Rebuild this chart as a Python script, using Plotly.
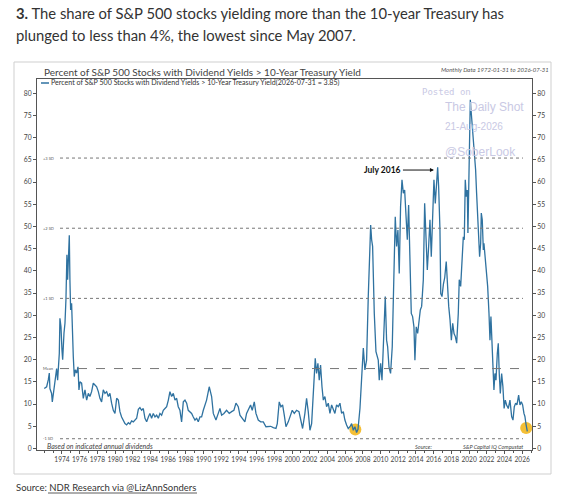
import plotly.graph_objects as go

# percent of S&P 500 stocks with dividend yield above the 10-year Treasury yield
years = [
    1972.0, 1972.27, 1972.46, 1972.57, 1972.64, 1972.83, 1972.91, 1973.02, 1973.21, 1973.32,
    1973.4, 1973.51, 1973.59, 1973.7, 1973.77, 1973.89, 1974.0, 1974.08, 1974.23, 1974.34,
    1974.45, 1974.56, 1974.64, 1974.72, 1974.83, 1974.9, 1974.98, 1975.09, 1975.17, 1975.28,
    1975.39, 1975.51, 1975.66, 1975.81, 1975.92, 1976.03, 1976.22, 1976.41, 1976.6, 1976.79,
    1976.98, 1977.16, 1977.35, 1977.54, 1977.73, 1977.92, 1978.11, 1978.29, 1978.48, 1978.67,
    1978.86, 1979.05, 1979.24, 1979.42, 1979.61, 1979.8, 1979.99, 1980.18, 1980.37, 1980.55,
    1980.74, 1980.93, 1981.12, 1981.31, 1981.5, 1981.68, 1981.87, 1982.06, 1982.25, 1982.44,
    1982.63, 1982.81, 1983.0, 1983.19, 1983.38, 1983.57, 1983.76, 1983.94, 1984.13, 1984.32,
    1984.51, 1984.7, 1984.89, 1985.07, 1985.26, 1985.45, 1985.64, 1985.83, 1986.02, 1986.2,
    1986.39, 1986.58, 1986.77, 1986.96, 1987.14, 1987.33, 1987.52, 1987.71, 1987.9, 1988.09,
    1988.27, 1988.46, 1988.65, 1988.84, 1989.03, 1989.22, 1989.4, 1989.59, 1989.78, 1989.97,
    1990.34, 1990.64, 1990.91, 1991.1, 1991.4, 1991.66, 1991.85, 1992.04, 1992.3, 1992.6,
    1992.9, 1993.17, 1993.43, 1993.66, 1993.92, 1994.11, 1994.37, 1994.67, 1994.86, 1995.16,
    1995.31, 1995.5, 1995.73, 1995.92, 1996.18, 1996.45, 1996.75, 1997.05, 1997.31, 1997.58,
    1997.88, 1998.18, 1998.33, 1998.55, 1998.74, 1998.93, 1999.12, 1999.31, 1999.57, 1999.76,
    2000.02, 2000.25, 2000.51, 2000.78, 2001.0, 2001.19, 2001.45, 2001.64, 2001.83, 2002.02,
    2002.21, 2002.4, 2002.51, 2002.62, 2002.77, 2002.92, 2003.07, 2003.22, 2003.38, 2003.53,
    2003.71, 2003.9, 2004.09, 2004.28, 2004.47, 2004.66, 2004.84, 2005.03, 2005.22, 2005.41,
    2005.6, 2005.79, 2005.97, 2006.16, 2006.35, 2006.54, 2006.73, 2006.92, 2007.1, 2007.29,
    2007.45, 2007.67, 2007.86, 2008.05, 2008.23, 2008.42, 2008.61, 2008.88, 2008.99, 2009.1,
    2009.29, 2009.48, 2009.74, 2009.85, 2010.01, 2010.16, 2010.31, 2010.42, 2010.53, 2010.68,
    2010.8, 2010.95, 2011.13, 2011.32, 2011.51, 2011.66, 2011.81, 2011.96, 2012.11, 2012.26,
    2012.42, 2012.57, 2012.72, 2012.87, 2013.02, 2013.17, 2013.32, 2013.47, 2013.62, 2013.77,
    2013.88, 2014.03, 2014.19, 2014.34, 2014.49, 2014.64, 2014.83, 2014.98, 2015.13, 2015.28,
    2015.43, 2015.58, 2015.73, 2015.88, 2016.03, 2016.18, 2016.33, 2016.45, 2016.56, 2016.71,
    2016.8, 2016.94, 2017.1, 2017.25, 2017.42, 2017.55, 2017.7, 2017.85, 2018.0, 2018.15,
    2018.3, 2018.45, 2018.6, 2018.78, 2018.89, 2019.05, 2019.2, 2019.35, 2019.46, 2019.57,
    2019.69, 2019.8, 2019.87, 2019.95, 2020.02, 2020.14, 2020.25, 2020.36, 2020.48, 2020.59,
    2020.74, 2020.85, 2020.97, 2021.08, 2021.19, 2021.31, 2021.38, 2021.49, 2021.61, 2021.68,
    2021.79, 2021.95, 2022.1, 2022.25, 2022.36, 2022.47, 2022.59, 2022.7, 2022.81, 2022.92,
    2023.04, 2023.19, 2023.3, 2023.41, 2023.53, 2023.68, 2023.82, 2023.96, 2024.09, 2024.24,
    2024.43, 2024.62, 2024.81, 2024.96, 2025.11, 2025.26, 2025.41, 2025.6, 2025.75, 2025.9,
    2026.05, 2026.2, 2026.31, 2026.43, 2026.58,
]
share = [
    13.5, 13.9, 15.5, 17.0, 13.5, 12.4, 10.5, 12.0, 15.0, 16.5,
    18.0, 15.4, 18.0, 21.4, 29.3, 27.4, 22.2, 20.0, 26.0, 28.2,
    33.5, 43.6, 38.0, 44.0, 48.0, 38.0, 31.2, 32.7, 24.4, 20.7,
    16.2, 17.7, 17.0, 18.4, 13.2, 15.0, 14.7, 11.3, 13.2, 10.9,
    12.4, 11.7, 12.8, 14.7, 14.3, 13.9, 12.8, 11.3, 10.5, 13.2,
    12.4, 12.8, 11.7, 12.4, 10.2, 8.6, 7.9, 11.3, 10.9, 8.3,
    7.1, 6.4, 5.6, 5.3, 5.8, 5.5, 6.2, 6.0, 6.4, 6.8,
    8.8, 9.2, 8.6, 9.0, 6.8, 6.0, 7.1, 7.9, 6.8, 7.9,
    7.1, 7.5, 6.8, 7.9, 7.5, 8.6, 9.0, 9.4, 10.9, 12.8,
    11.7, 12.4, 10.9, 11.3, 9.4, 8.6, 6.0, 10.5, 10.9, 10.2,
    8.6, 8.3, 7.9, 7.1, 6.4, 6.8, 6.0, 7.1, 7.1, 8.6,
    10.9, 13.9, 11.7, 7.9, 6.4, 7.9, 9.0, 7.5, 7.9, 8.6,
    7.9, 8.3, 8.6, 10.2, 9.4, 7.5, 6.8, 6.0, 7.9, 9.0,
    9.8, 8.6, 10.5, 7.9, 6.4, 6.0, 6.0, 4.9, 4.9, 5.0,
    4.7, 4.5, 5.6, 10.5, 9.4, 9.8, 7.5, 4.9, 6.0, 7.1,
    8.6, 7.9, 8.6, 8.3, 6.4, 4.5, 7.9, 11.3, 8.3, 4.1,
    5.6, 12.4, 16.2, 20.3, 16.9, 19.2, 15.4, 18.8, 13.9, 10.9,
    11.7, 9.4, 10.2, 7.9, 9.8, 9.0, 7.9, 9.8, 9.4, 10.2,
    7.9, 8.3, 6.4, 5.3, 4.5, 4.9, 5.6, 4.1, 4.9, 3.6,
    4.3, 9.0, 14.7, 22.6, 17.7, 19.9, 34.2, 50.3, 47.0, 45.5,
    30.4, 21.8, 19.9, 15.4, 19.2, 15.4, 22.9, 27.4, 34.2, 24.4,
    22.9, 18.4, 16.9, 22.9, 41.0, 52.2, 45.5, 49.2, 39.4, 54.5,
    60.5, 57.5, 58.2, 51.5, 47.0, 54.8, 41.7, 30.4, 29.7, 27.4,
    19.9, 27.4, 25.9, 28.9, 31.2, 32.0, 38.0, 55.2, 47.7, 40.2,
    45.5, 51.5, 43.2, 53.0, 60.5, 55.2, 61.2, 63.3, 59.0, 49.2,
    34.9, 34.2, 37.0, 38.5, 42.1, 36.5, 32.0, 28.9, 24.4, 28.2,
    25.9, 25.2, 23.7, 30.4, 38.0, 36.5, 41.0, 47.7, 47.0, 60.5,
    56.7, 58.2, 48.5, 60.5, 73.2, 78.5, 75.5, 72.5, 71.0, 66.5,
    62.7, 57.5, 51.5, 46.2, 43.2, 46.2, 53.0, 51.5, 44.7, 46.2,
    43.2, 41.0, 36.5, 30.4, 24.4, 29.7, 22.9, 17.7, 13.2, 16.9,
    15.4, 21.4, 23.7, 16.9, 12.4, 16.9, 14.0, 9.0, 10.9, 9.8,
    9.0, 10.9, 7.2, 6.4, 9.4, 10.2, 9.8, 12.0, 9.8, 10.5,
    9.8, 7.9, 7.2, 5.5, 3.85,
]

band_levels = [65.4, 49.6, 33.8, 18.0, 2.2]
band_labels = ["+3 SD", "+2 SD", "+1 SD", "Mean", "-1 SD"]

circle_years = [2007.15, 2026.45]
circle_vals = [4.3, 4.6]

peak_year = 2016.03
peak_val = 62.7

x_ticks = list(range(1974, 2027, 2))
y_ticks = list(range(0, 81, 5))

W, H = 562, 500
ML, MR, MT, MB = 37, 30, 79, 50
PW = W - ML - MR
PH = H - MT - MB


def px(x):
    return (x - ML) / PW


def py(y):
    return (H - MB - y) / PH


FONT = "Lato"
LINE_BLUE = "#2f72a0"

fig = go.Figure()
fig.add_trace(go.Scatter(x=circle_years, y=circle_vals, mode="markers",
                         marker=dict(size=12, color="rgba(243,184,32,0.9)"),
                         hoverinfo="skip", showlegend=False))
fig.add_trace(go.Scatter(x=years, y=share, mode="lines",
                         line=dict(color=LINE_BLUE, width=1.3), showlegend=False))
# dummy trace so the right axis gets drawn
fig.add_trace(go.Scatter(x=[years[0]], y=[share[0]], yaxis="y2", mode="markers",
                         marker=dict(opacity=0), hoverinfo="skip", showlegend=False))

shapes = []
for lvl, lab in zip(band_levels, band_labels):
    shapes.append(dict(type="line", xref="paper", yref="y", x0=px(60), x1=px(523), y0=lvl, y1=lvl,
                       line=dict(color="#777", width=1, dash="dash" if lab == "Mean" else "dot")))
# outer frame
shapes.append(dict(type="rect", xref="paper", yref="paper", x0=px(14), x1=px(551), y0=py(474), y1=py(62),
                   line=dict(color="#cfcfcf", width=1)))
# legend swatch
shapes.append(dict(type="line", xref="paper", yref="paper", x0=px(41), x1=px(49), y0=py(83), y1=py(83),
                   line=dict(color=LINE_BLUE, width=1.5)))
# underline for the source link
shapes.append(dict(type="line", xref="paper", yref="paper", x0=px(48), x1=px(197), y0=py(493), y1=py(493),
                   line=dict(color="#333", width=0.8)))

ann = []


def note(text, x, y, size, color="#333", anchor="left", family=FONT):
    ann.append(dict(text=text, xref="paper", yref="paper", x=px(x), y=py(y), xanchor=anchor, yanchor="middle",
                    showarrow=False, font=dict(family=family, size=size, color=color)))


note("<b>3.</b> The share of S&P 500 stocks yielding more than the 10-year Treasury has", 14, 13, 14.8, "#333")
note("plunged to less than 4%, the lowest since May 2007.", 14, 35, 14.8, "#333")
note("Percent of S&P 500 Stocks with Dividend Yields > 10-Year Treasury Yield", 42, 72, 10, "#444")
note("<i>Monthly Data 1972-01-31 to 2026-07-31</i>", 551, 70, 6, "#555", anchor="right")
note("Percent of S&P 500 Stocks with Dividend Yields > 10-Year Treasury Yield(2026-07-31 = 3.85)",
     49, 83, 7.1, "#333")
for lvl, lab in zip(band_levels, band_labels):
    ann.append(dict(text=lab, xref="paper", yref="y", x=px(41), y=lvl, xanchor="left", yanchor="middle",
                    showarrow=False, font=dict(family=FONT, size=4, color="#555")))
note("<i>Based on indicated annual dividends</i>", 45, 445.5, 7, "#444")
note("<i>Source:</i>", 434, 447, 5.5, "#444", anchor="right")
note("<i>S&P Capital IQ Compustat</i>", 525, 447, 5.5, "#444", anchor="right")
note("Source: NDR Research via @LizAnnSonders", 14, 487, 9.5, "#333")

# watermark
wm = "#c9c9e4"
note("Posted on", 420, 92, 9, wm, family="DejaVu Sans Mono")
note("The Daily Shot", 443, 107, 12, wm, family="Liberation Sans")
note("21-Aug-2026", 443, 126, 10, wm, family="Liberation Sans")
note("@SoberLook", 443, 152, 12, wm, family="Liberation Sans")

ann.append(dict(text="<b>July 2016</b>", x=peak_year, y=peak_val, xref="x", yref="y",
                ax=-51, ay=0, showarrow=True, arrowhead=2, arrowsize=0.8, arrowwidth=1,
                arrowcolor="#111", font=dict(family=FONT, size=8.5, color="#111")))

axis_font = dict(family=FONT, size=6.8, color="#444")
fig.update_layout(
    width=W, height=H,
    margin=dict(l=ML, r=MR, t=MT, b=MB),
    paper_bgcolor="white", plot_bgcolor="white",
    shapes=shapes, annotations=ann,
    xaxis=dict(range=[1971.18, 2027.11], tickmode="array", tickvals=x_ticks, tickangle=0,
               ticks="outside", ticklen=3, tickcolor="#555", tickfont=dict(family=FONT, size=6.6, color="#444"),
               minor=dict(dtick=1, tick0=1974, ticks="outside", ticklen=2, tickcolor="#555"),
               showline=True, linecolor="#555", linewidth=1, mirror=True,
               showgrid=False, zeroline=False),
    yaxis=dict(range=[-0.34, 83.2], tickmode="array", tickvals=y_ticks,
               ticks="outside", ticklen=3, tickcolor="#555", tickfont=axis_font,
               showline=True, linecolor="#555", linewidth=1, mirror=True,
               showgrid=False, zeroline=False),
    yaxis2=dict(range=[-0.34, 83.2], overlaying="y", side="right", tickmode="array", tickvals=y_ticks,
                ticks="outside", ticklen=3, tickcolor="#555", tickfont=axis_font,
                showline=False, showgrid=False, zeroline=False),
)

# drop the default page margin so the figure sits at the window's corner
fig.write_html("out.html", config={"displayModeBar": False},
               post_script="document.body.style.margin='0px';")
